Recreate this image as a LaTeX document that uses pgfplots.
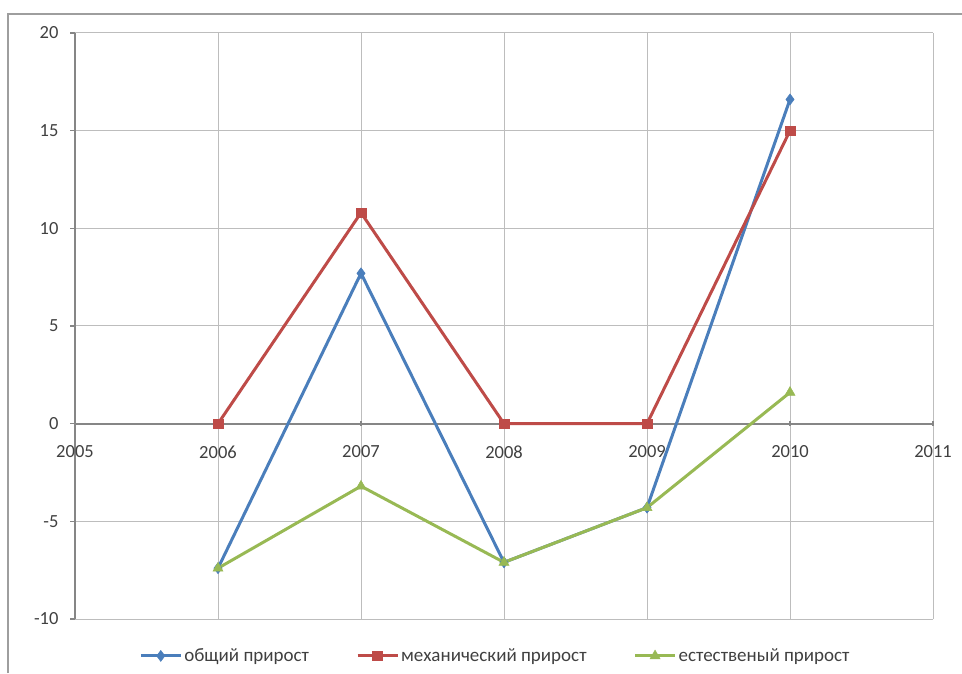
\documentclass[border=0pt]{standalone}
\usepackage{fontspec}
\setmainfont{Carlito}
\usepackage{pgfplots}
\pgfplotsset{compat=1.18}

\definecolor{serBlue}{HTML}{4A7EBB}
\definecolor{serRed}{HTML}{BE4B48}
\definecolor{serGreen}{HTML}{98B954}
\definecolor{gridGray}{HTML}{BDBDBD}
\definecolor{axisGray}{HTML}{868686}
\definecolor{labelGray}{HTML}{404040}

\begin{document}
\begin{tikzpicture}
  % page frame and chart border
  \useasboundingbox (0pt,0pt) rectangle (962pt,673pt);
  \draw[axisGray!80, line width=1.5pt] (8pt,0pt) -- (8pt,659pt) -- (962pt,659pt);

  \begin{axis}[
    at={(75pt,54pt)}, anchor=south west,
    scale only axis, width=858pt, height=586pt,
    xmin=2005, xmax=2011, ymin=-10, ymax=20,
    xtick={2005,2006,2007,2008,2009,2010,2011},
    xticklabels={2005,2006,2007,2008,2009,2010,2011},
    ytick={-10,-5,0,5,10,15,20},
    yticklabels={-10,-5,0,5,10,15,20},
    axis x line*=middle,
    axis y line*=left,
    hide obscured x ticks=false,
    hide obscured y ticks=false,
    x axis line style={draw=axisGray, line width=2pt, -},
    y axis line style={draw=axisGray, line width=2pt, -},
    xmajorgrids, ymajorgrids,
    grid style={gridGray, line width=1pt},
    tick style={axisGray, line width=1.2pt},
    major tick length=5pt,
    xtick align=center,
    ytick align=outside,
    tick label style={font=\fontsize{18.5}{22}\selectfont, text=labelGray},
    xticklabel style={yshift=-16pt},
    yticklabel style={xshift=-8pt},
    clip=false,
    legend columns=3,
    legend style={
      at={(0.49,-0.063)}, anchor=center, draw=none, fill=none,
      font=\fontsize{19}{22}\selectfont, text=labelGray,
      /tikz/every even column/.append style={column sep=45pt},
    },
    legend cell align=left,
    legend image code/.code={
      \draw[#1, mark repeat=2, mark phase=2]
        plot coordinates {(0pt,0pt) (20pt,0pt) (40pt,0pt)};
    },
  ]
    \addplot[serBlue, line width=3pt, mark=diamond*,
             mark size=5.5pt, mark options={solid, line width=0.5pt, fill=serBlue}]
      coordinates {(2006,-7.4) (2007,7.7) (2008,-7.1) (2009,-4.3) (2010,16.6)};
    \addlegendentry{общий прирост}

    \addplot[serRed, line width=3pt, mark=square*,
             mark size=4.8pt, mark options={solid, line width=0.5pt, fill=serRed}]
      coordinates {(2006,0) (2007,10.8) (2008,0) (2009,0) (2010,15)};
    \addlegendentry{механический прирост}

    \addplot[serGreen, line width=3pt, mark=triangle*,
             mark size=5.8pt, mark options={solid, line width=0.5pt, fill=serGreen}]
      coordinates {(2006,-7.4) (2007,-3.2) (2008,-7.1) (2009,-4.3) (2010,1.6)};
    \addlegendentry{естественый прирост}
  \end{axis}
\end{tikzpicture}
\end{document}
